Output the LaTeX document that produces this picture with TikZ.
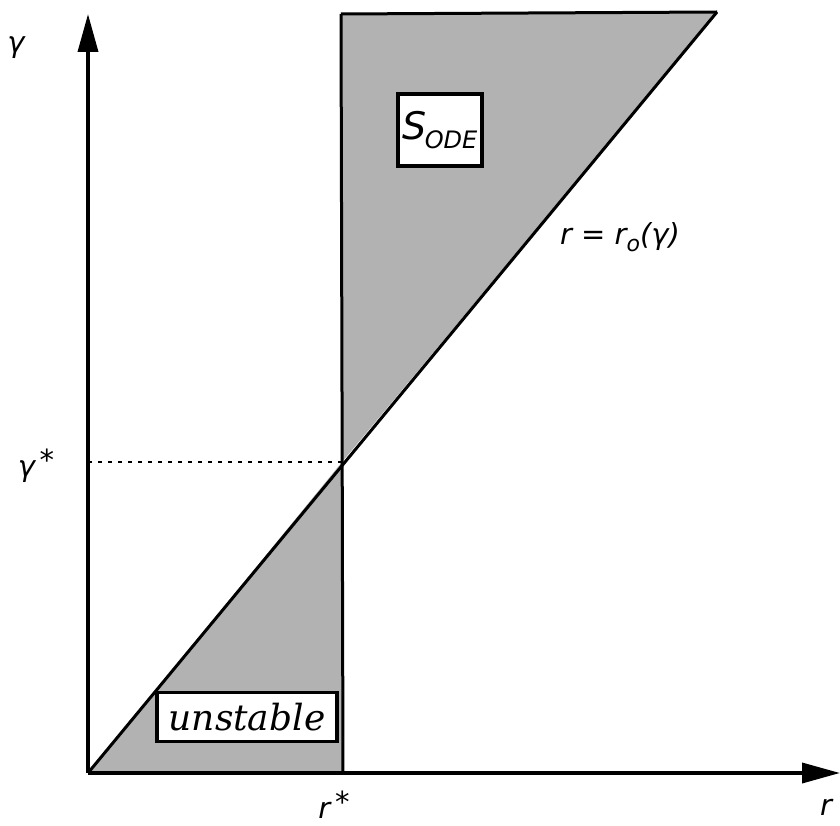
\documentclass[tikz,border=0pt]{standalone}
\usepackage{fontspec}
\setmainfont{DejaVu Serif}
\newfontfamily\lblfont{DejaVu Sans}
\usetikzlibrary{arrows.meta}
\begin{document}
\begin{tikzpicture}[x=1pt,y=-1pt,
  axis/.style={line width=3.6pt,-{Triangle[length=38pt,width=20pt]}},
  edge/.style={line width=3pt,line join=round},
  region/.style={fill=black!30},
  labelbox/.style={draw,line width=3.4pt,fill=white,inner sep=4pt},
  lbl/.style={font=\lblfont\itshape\fontsize{29}{32}\selectfont,inner sep=1pt}]
\useasboundingbox (0,0) rectangle (840,826);
\coordinate (O) at (88,773);
\coordinate (ytip) at (88,14);
\coordinate (xtip) at (840,773);
\coordinate (vtop) at (341,14);
\coordinate (vbot) at (343,773);
\coordinate (dtop) at (717,12);
\coordinate (X) at (342,462);
\coordinate (yst) at (88,462);
% shaded regions
\fill[region] (vtop) -- (dtop) -- (X) -- cycle;
\fill[region] (O) -- (X) -- (vbot) -- cycle;
% edges
\draw[edge] (vtop) -- (dtop);
\draw[edge] (vtop) -- (vbot);
\draw[edge] (O) -- (dtop);
\draw[line width=2.6pt,dash pattern=on 4pt off 6pt] (yst) -- (X);
% axes
\draw[axis] (O) -- (ytip);
\draw[axis] (O) -- (xtip);
% labels
\node[lbl] (gam) at (16,48) {γ};
\node[lbl] (gstar) at (36,466) {γ\,\raisebox{6pt}{*}};
\node[lbl] (rstar) at (334,805) {r\,\raisebox{6pt}{*}};
\node[lbl] (rlab) at (826,807) {r};
\node[lbl] (rr) at (620,237) {r = r\raisebox{-7pt}{\fontsize{22}{24}\selectfont o}(γ)};
\node[labelbox,minimum width=84pt,minimum height=72pt,font=\lblfont\itshape\fontsize{38}{40}\selectfont] (sode) at (440,130) {S\kern-2pt\raisebox{-9pt}{\fontsize{24}{26}\selectfont ODE}};
\node[labelbox,minimum width=180pt,minimum height=49pt,font=\itshape\fontsize{36}{38}\selectfont] (unst) at (247,717) {unstable};
\end{tikzpicture}
\end{document}
